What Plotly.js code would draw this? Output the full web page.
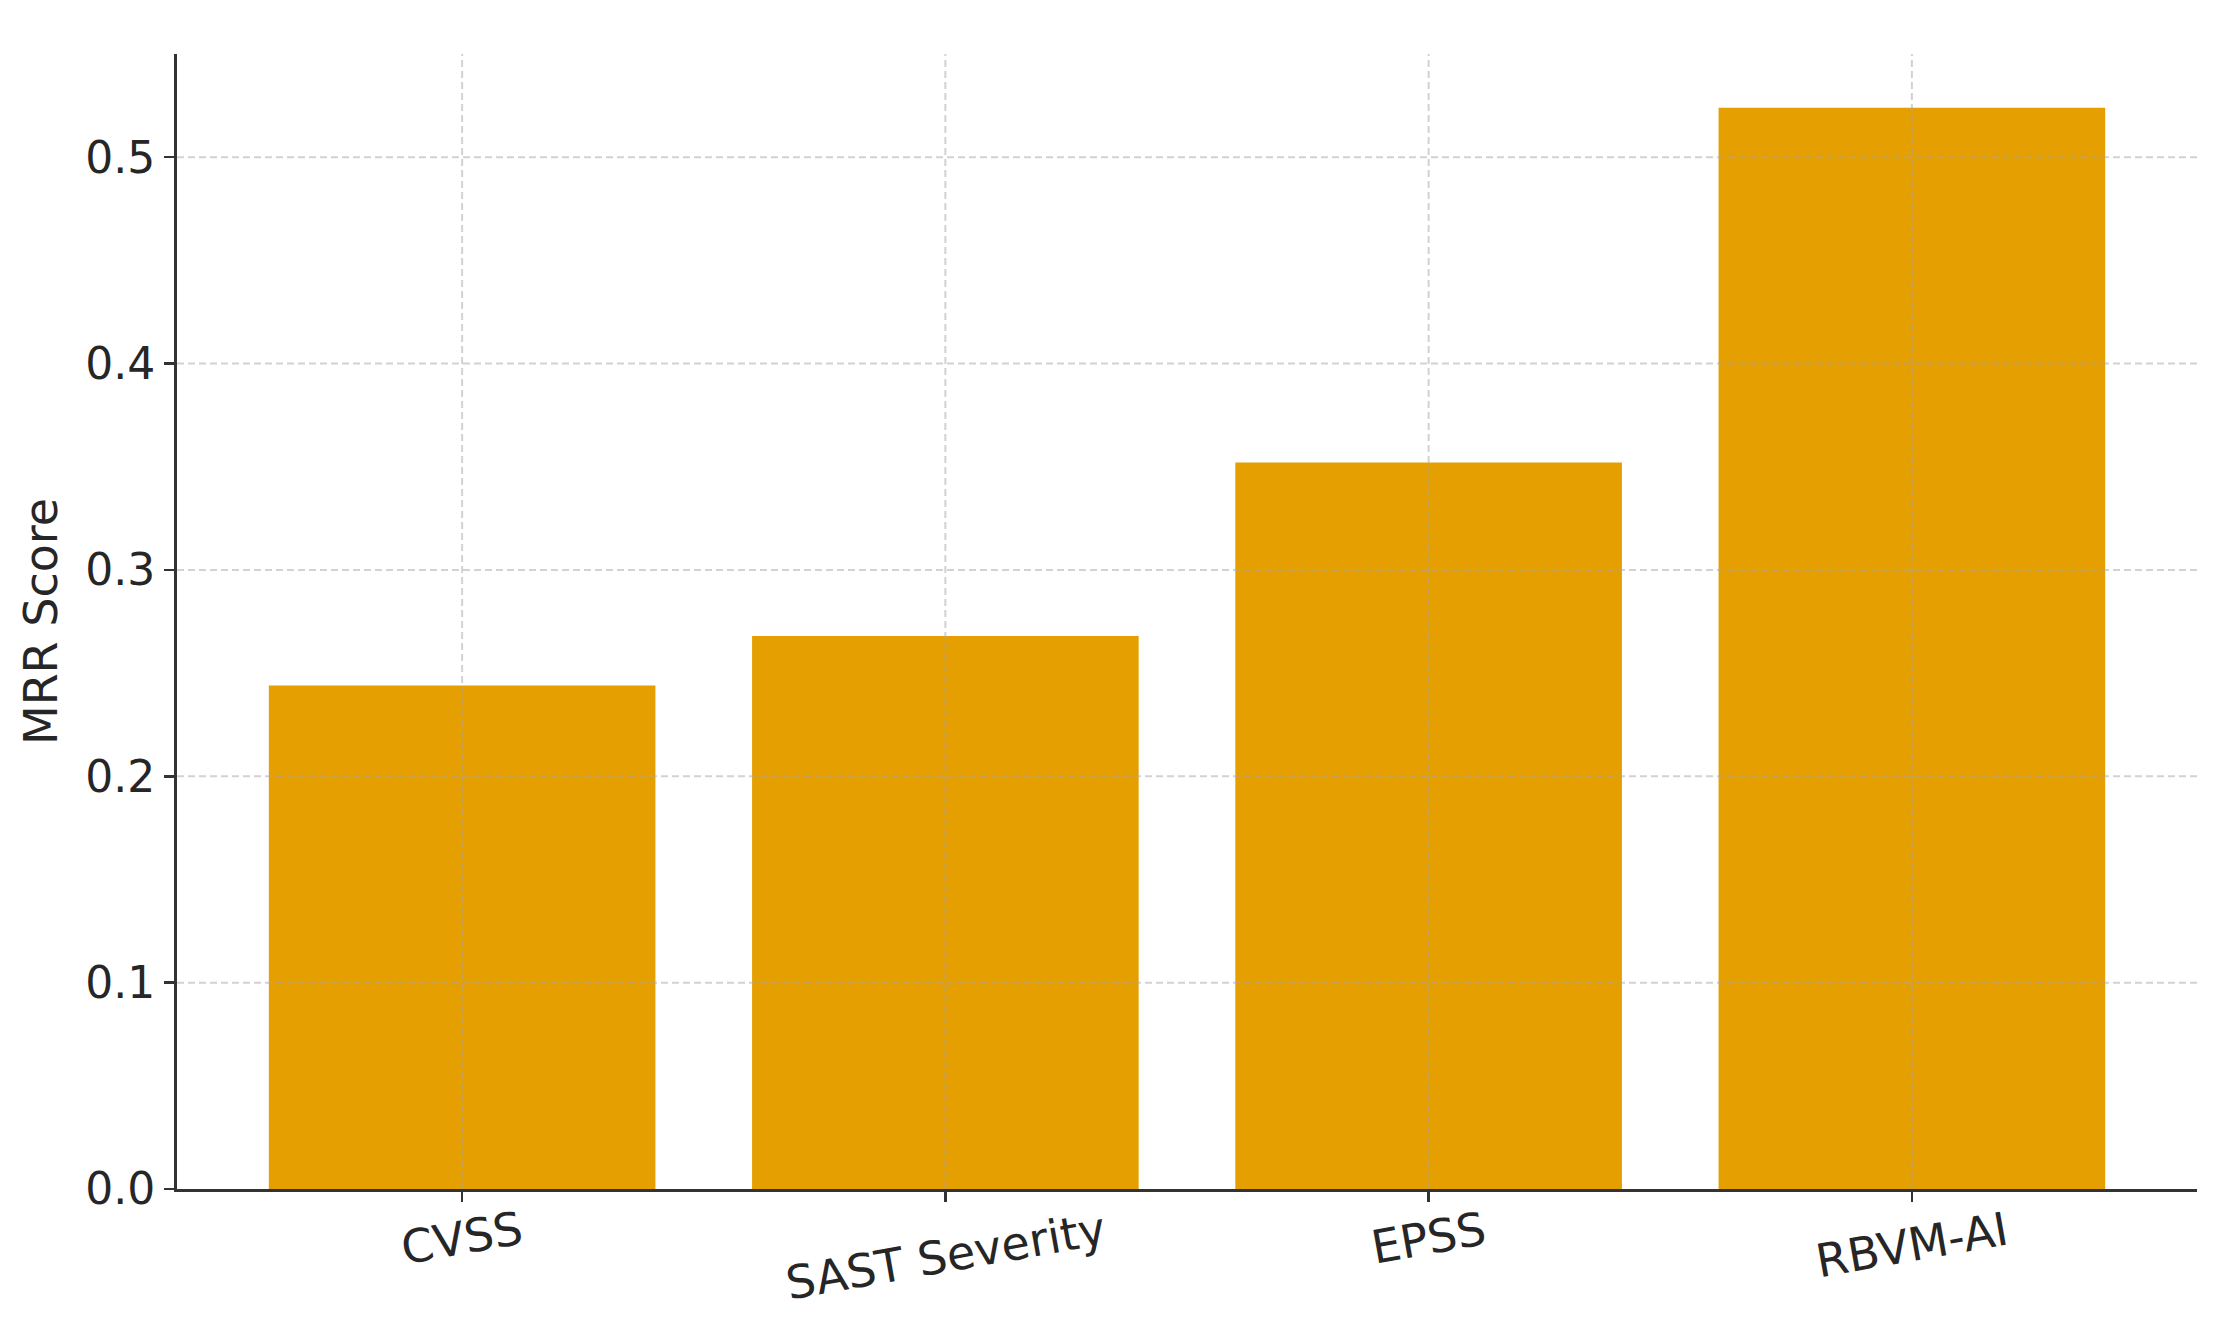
<!DOCTYPE html>
<html>
<head>
<meta charset="utf-8">
<script src="https://cdn.plot.ly/plotly-3.0.1.min.js"></script>
<style>
  html, body { margin: 0; padding: 0; background: #ffffff; }
  #mrrPlot { width: 2233px; height: 1320px; }
</style>
</head>
<body>
<div id="mrrPlot"></div>
<script>
// MRR score per ranking method
var methods = ['CVSS', 'SAST Severity', 'EPSS', 'RBVM-AI'];
var mrrScores = [0.244, 0.268, 0.352, 0.524];
var yTicks = [0.0, 0.1, 0.2, 0.3, 0.4, 0.5];

var barColor = '#E69F00';
var axisColor = '#333333';
var textColor = '#262626';
var gridColor = 'rgba(165,165,165,0.5)';

var mrrBars = {
  type: 'bar',
  x: methods,
  y: mrrScores,
  width: 0.8,
  marker: { color: barColor, line: { width: 0 } },
  hoverinfo: 'x+y'
};

// dashed grid drawn above the bars, like the original figure
var gridShapes = [];
for (var i = 0; i < yTicks.length; i++) {
  if (yTicks[i] === 0) continue;
  gridShapes.push({
    type: 'line', layer: 'above',
    xref: 'paper', x0: 0, x1: 1,
    yref: 'y', y0: yTicks[i], y1: yTicks[i],
    line: { color: gridColor, width: 2, dash: '7px,4px' }
  });
}
for (var j = 0; j < methods.length; j++) {
  gridShapes.push({
    type: 'line', layer: 'above',
    xref: 'x', x0: methods[j], x1: methods[j],
    yref: 'paper', y0: 0, y1: 1,
    line: { color: gridColor, width: 2, dash: '7px,4px' }
  });
}

// rotated category labels, centred under each tick
var labelNotes = [];
for (var k = 0; k < methods.length; k++) {
  labelNotes.push({
    text: methods[k],
    xref: 'x', x: methods[k],
    yref: 'paper', y: 0,
    xanchor: 'center', yanchor: 'top',
    yshift: -10,
    textangle: -10,
    showarrow: false,
    font: { family: 'DejaVu Sans', size: 46, color: textColor }
  });
}

var layout = {
  width: 2233,
  height: 1320,
  margin: { l: 177, r: 36, t: 54, b: 131 },
  paper_bgcolor: '#ffffff',
  plot_bgcolor: '#ffffff',
  font: { family: 'DejaVu Sans', size: 44, color: textColor },
  showlegend: false,
  bargap: 0.2,
  xaxis: {
    type: 'category',
    range: [-0.59, 3.59],
    showgrid: false,
    zeroline: false,
    showline: true,
    linecolor: axisColor,
    linewidth: 3,
    ticks: 'outside',
    ticklen: 10,
    tickwidth: 2.5,
    tickcolor: axisColor,
    showticklabels: false,
    automargin: false
  },
  yaxis: {
    range: [0, 0.55],
    tickvals: yTicks,
    tickformat: '.1f',
    showgrid: false,
    zeroline: false,
    showline: true,
    linecolor: axisColor,
    linewidth: 3,
    ticks: 'outside',
    ticklen: 10,
    tickwidth: 2.5,
    tickcolor: axisColor,
    ticklabelstandoff: 0,
    tickfont: { family: 'DejaVu Sans', size: 44, color: textColor },
    title: {
      text: 'MRR Score',
      standoff: 14,
      font: { family: 'DejaVu Sans', size: 46, color: textColor }
    },
    automargin: false
  },
  shapes: gridShapes,
  annotations: labelNotes
};

Plotly.newPlot('mrrPlot', [mrrBars], layout, { staticPlot: true, displayModeBar: false });
</script>
</body>
</html>
